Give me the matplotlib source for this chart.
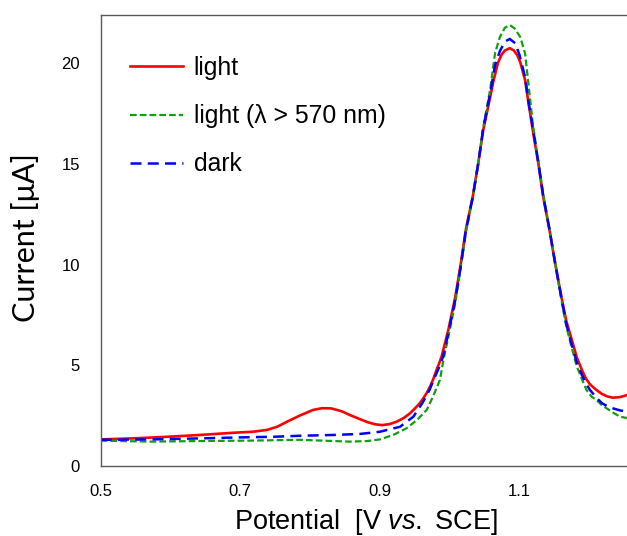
import matplotlib
matplotlib.use("Agg")
import matplotlib.pyplot as plt

plt.rcParams["font.family"] = ["Liberation Sans", "DejaVu Sans"]
plt.rcParams["mathtext.fontset"] = "custom"
plt.rcParams["mathtext.rm"] = "Liberation Sans"
plt.rcParams["mathtext.it"] = "Liberation Sans:italic"

# Differential pulse voltammograms: potential (V vs. SCE) and current (uA)
E_light = [0.500, 0.546, 0.595, 0.642, 0.690, 0.718, 0.738, 0.753, 0.767, 0.785,
           0.804, 0.817, 0.830, 0.845, 0.857, 0.871, 0.882, 0.893, 0.903, 0.914,
           0.924, 0.934, 0.943, 0.950, 0.957, 0.962, 0.967, 0.972, 0.976, 0.981,
           0.986, 0.9885, 0.998, 1.008, 1.016, 1.023, 1.033, 1.041, 1.048,
           1.058, 1.063, 1.069, 1.074, 1.079, 1.086, 1.092, 1.097, 1.101,
           1.108, 1.113, 1.119, 1.127, 1.134, 1.143, 1.151, 1.160, 1.167,
           1.175, 1.182, 1.189, 1.195, 1.201, 1.210, 1.218, 1.226, 1.234,
           1.244, 1.254]
I_light = [1.32, 1.37, 1.45, 1.54, 1.65, 1.70, 1.79, 1.95, 2.20, 2.50,
           2.78, 2.87, 2.86, 2.72, 2.53, 2.33, 2.18, 2.07, 2.03, 2.08,
           2.20, 2.38, 2.61, 2.85, 3.11, 3.35, 3.62, 3.95, 4.27, 4.75,
           5.20, 5.45, 6.75, 8.39, 10.07, 11.71, 13.37, 15.04, 16.67,
           18.31, 19.16, 20.00, 20.40, 20.62, 20.74, 20.62, 20.38, 20.05,
           19.16, 18.00, 16.67, 15.02, 13.35, 11.71, 10.07, 8.40, 7.20,
           6.25, 5.40, 4.80, 4.35, 4.05, 3.78, 3.58, 3.45, 3.39,
           3.42, 3.52]

E_filtered = [0.500, 0.571, 0.642, 0.714, 0.785, 0.833, 0.857, 0.882, 0.900, 0.919,
              0.938, 0.953, 0.967, 0.976, 0.986, 0.991, 0.998, 1.008, 1.016,
              1.023, 1.033, 1.041, 1.048, 1.058, 1.065, 1.072, 1.079, 1.086,
              1.093, 1.101, 1.108, 1.113, 1.119, 1.127, 1.134, 1.143, 1.151,
              1.160, 1.167, 1.175, 1.182, 1.189, 1.196, 1.203, 1.211, 1.218,
              1.225, 1.234, 1.244, 1.254]
I_filtered = [1.26, 1.21, 1.24, 1.26, 1.30, 1.24, 1.21, 1.24, 1.32, 1.54,
              1.87, 2.28, 2.78, 3.44, 4.27, 5.26, 6.40, 8.10, 9.90,
              11.55, 13.30, 15.05, 16.80, 18.70, 20.50, 21.30, 21.75, 21.89,
              21.72, 21.30, 20.48, 18.90, 17.00, 15.10, 13.50, 11.75, 10.10,
              8.25, 6.95, 5.85, 4.95, 4.35, 3.77, 3.45, 3.25, 3.02,
              2.86, 2.65, 2.45, 2.38]

E_dark = [0.500, 0.571, 0.642, 0.700, 0.747, 0.785, 0.833, 0.871, 0.900, 0.929,
          0.948, 0.962, 0.971, 0.981, 0.986, 0.991, 0.998, 1.008, 1.016, 1.023,
          1.033, 1.041, 1.048, 1.058, 1.065, 1.072, 1.079, 1.086, 1.094,
          1.100, 1.108, 1.113, 1.119, 1.127, 1.134, 1.143, 1.151, 1.160,
          1.167, 1.175, 1.182, 1.189, 1.196, 1.201, 1.211, 1.218, 1.225,
          1.234, 1.244, 1.254]
I_dark = [1.30, 1.32, 1.37, 1.42, 1.45, 1.50, 1.54, 1.59, 1.70, 1.95,
          2.45, 3.19, 3.77, 4.60, 5.00, 5.50, 6.60, 8.25, 9.95, 11.65,
          13.35, 15.05, 16.75, 18.50, 19.90, 20.60, 21.06, 21.20, 20.98,
          20.40, 19.30, 18.05, 16.80, 15.05, 13.40, 11.72, 10.08, 8.35,
          7.05, 6.00, 5.15, 4.55, 4.05, 3.77, 3.36, 3.12, 2.98,
          2.86, 2.76, 2.70]

x_ticks = [0.5, 0.7, 0.9, 1.1]
y_ticks = [0, 5, 10, 15, 20]

W, H = 627, 536
fig = plt.figure(figsize=(W / 100, H / 100), dpi=100)

x_min, x_max = 0.5, 1.26
px_per_volt = 698
left_px, bottom_px, top_px = 100.7, 466, 14.7
ax = fig.add_axes([left_px / W, (H - bottom_px) / H,
                   (x_max - x_min) * px_per_volt / W, (bottom_px - top_px) / H])

ax.plot(E_light, I_light, color="#FF0000", lw=1.9, label="light",
        solid_joinstyle="round")
ax.plot(E_filtered, I_filtered, color="#109F10", lw=1.6, dashes=(3.0, 1.4),
        label="light (\u03bb > 570 nm)")
ax.plot(E_dark, I_dark, color="#0000FF", lw=1.8, dashes=(4.4, 2.5),
        label="dark")

ax.set_xlim(x_min, x_max)
ax.set_ylim(0, 22.4)
ax.set_xticks(x_ticks)
ax.set_yticks(y_ticks)
ax.set_xticklabels([f"{v:g}" for v in x_ticks])
ax.tick_params(length=0, labelsize=12, colors="#000000")
ax.tick_params(axis="y", pad=15)
ax.tick_params(axis="x", pad=13)

for side in ("left", "bottom", "top"):
    ax.spines[side].set_color("#595959")
    ax.spines[side].set_linewidth(1.0)
ax.spines["right"].set_visible(False)

ax.set_xlabel("Potential  [V $\\mathit{vs.}$ SCE]", fontsize=19.5, labelpad=6)
fig.text(26 / W, (H - 238) / H, "Current [\u03bcA]", rotation=90,
         fontsize=22, family=["Lato", "DejaVu Sans"], ha="center", va="center")

leg = ax.legend(loc="upper left", bbox_to_anchor=(130 / W, (H - 56) / H),
                bbox_transform=fig.transFigure, frameon=False, fontsize=17.8,
                handlelength=2.15, handletextpad=0.42, labelspacing=0.98,
                borderpad=0, borderaxespad=0)

fig.savefig("out.png", dpi=100)
